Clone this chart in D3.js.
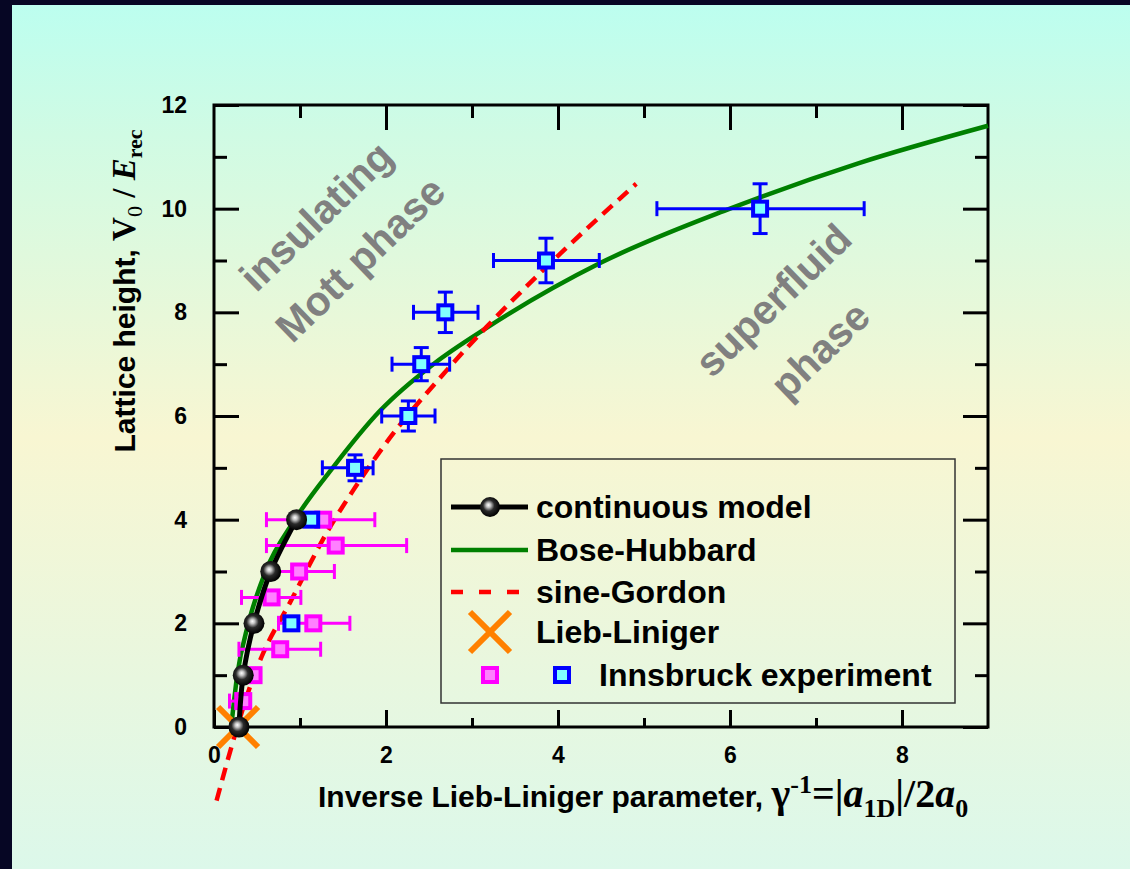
<!DOCTYPE html>
<html>
<head>
<meta charset="utf-8">
<script src="https://cdn.jsdelivr.net/npm/d3@7"></script>
<style>
  html, body { margin: 0; padding: 0; background: #060624; }
  svg { display: block; }
</style>
</head>
<body>
<svg id="chart" width="1130" height="869"></svg>
<script>
// ---- data -------------------------------------------------------------
// continuous model (black spheres joined by a line)
const contX = [0.29, 0.34, 0.465, 0.66, 0.96];
const contV = [0, 1, 2, 3, 4];

// Bose-Hubbard prediction
const bhX = [0.20, 0.27, 0.40, 0.60, 0.94, 1.38, 1.93, 2.55, 3.17, 4.49, 6.0, 7.5, 9.0];
const bhV = [0, 1, 2, 3, 4, 5, 6.1, 7.0, 7.7, 8.95, 10.0, 10.88, 11.6];

// sine-Gordon prediction
const sgX = [0.03, 0.26, 0.42, 0.555, 0.88, 1.35, 1.62, 1.97, 2.71, 3.17, 3.83, 4.91];
const sgV = [-1.42, -0.06, 0.78, 1.36, 2.39, 3.86, 4.57, 5.41, 6.89, 7.72, 8.82, 10.48];

// Lieb-Liniger point
const llX = [0.28];
const llV = [0];

// Innsbruck experiment, first data set (magenta, horizontal error bars)
const magV   = [0.5, 1, 1.5, 2, 2.5, 3, 3.5, 4];
const magX   = [0.34, 0.46, 0.77, 1.155, 0.67, 0.99, 1.415, 1.27];
const magXLo = [0.18, 0.40, 0.29, 0.75, 0.32, 0.61, 0.61, 0.61];
const magXHi = [0.40, 0.52, 1.24, 1.58, 1.01, 1.40, 2.24, 1.87];

// Innsbruck experiment, second data set (blue, x and y error bars)
const bluV    = [2, 4, 5, 6, 7, 8, 9, 10];
const bluX    = [0.90, 1.13, 1.64, 2.26, 2.41, 2.69, 3.86, 6.35];
const bluXLo  = [null, null, 1.26, 1.95, 2.07, 2.32, 3.25, 5.15];
const bluXHi  = [null, null, 1.85, 2.57, 2.74, 3.07, 4.48, 7.56];
const bluVErr = [null, null, 0.25, 0.29, 0.32, 0.39, 0.43, 0.48];

// axis ticks
const xMajor = [0, 2, 4, 6, 8];
const xMinor = [1, 3, 5, 7];
const yMajor = [0, 2, 4, 6, 8, 10, 12];
const yMinor = [1, 3, 5, 7, 9, 11];

// legend entries
const legendLabels = ["continuous model", "Bose-Hubbard", "sine-Gordon", "Lieb-Liniger", "Innsbruck experiment"];

// phase annotations
const phaseTexts = [
  { text: "insulating", cx: 316, cy: 216 },
  { text: "Mott phase", cx: 360, cy: 259 },
  { text: "superfluid", cx: 773, cy: 300 },
  { text: "phase", cx: 820, cy: 350 }
];

// ---- layout -----------------------------------------------------------
const W = 1130, H = 869;
const plot = { left: 214, right: 988, top: 105, bottom: 727 };
const SANS = "'Liberation Sans', Arial, Helvetica, sans-serif";
const SERIF = "'Liberation Serif', 'Times New Roman', serif";

const svg = d3.select("#chart");
const defs = svg.append("defs");

// page background
const bg = defs.append("linearGradient").attr("id", "bgGrad")
  .attr("x1", 0).attr("y1", 0).attr("x2", 0).attr("y2", 1);
[[0, "#bcfeef"], [0.15, "#d0fbe4"], [0.5, "#f8f6d2"], [0.78, "#e8f7df"], [1, "#dcf8ea"]]
  .forEach(([o, c]) => bg.append("stop").attr("offset", o).attr("stop-color", c));

// shaded sphere for the continuous model markers
const ball = defs.append("radialGradient").attr("id", "ballGrad")
  .attr("cx", 0.45).attr("cy", 0.45).attr("r", 0.55).attr("fx", 0.42).attr("fy", 0.4);
[[0, "#ffffff"], [0.2, "#c4c4c4"], [0.52, "#2a2a2a"], [1, "#000000"]]
  .forEach(([o, c]) => ball.append("stop").attr("offset", o).attr("stop-color", c));

svg.append("rect").attr("width", W).attr("height", H).attr("fill", "#060624");
svg.append("rect").attr("x", 12).attr("y", 5).attr("width", W - 12).attr("height", H - 5)
  .attr("fill", "url(#bgGrad)");

const x = d3.scaleLinear().domain([0, 9]).range([plot.left, plot.right]);
const y = d3.scaleLinear().domain([0, 12]).range([plot.bottom, plot.top]);

// ---- axes ---------------------------------------------------------------
function styleAxis(g, labels) {
  g.select(".domain").remove();
  g.selectAll(".tick line").attr("stroke", "#000").attr("stroke-width", 3);
  g.selectAll("text").attr("font-family", SANS).attr("font-weight", "bold")
    .attr("font-size", 23).attr("fill", "#000");
  if (!labels) g.selectAll("text").remove();
}

svg.append("g").attr("transform", `translate(0,${plot.bottom})`)
  .call(d3.axisBottom(x).tickValues(xMajor).tickSize(-17).tickPadding(20).tickFormat(d3.format("d")))
  .call(g => styleAxis(g, true));
svg.append("g").attr("transform", `translate(0,${plot.bottom})`)
  .call(d3.axisBottom(x).tickValues(xMinor).tickSize(-9))
  .call(g => styleAxis(g, false));
svg.append("g").attr("transform", `translate(0,${plot.top})`)
  .call(d3.axisTop(x).tickValues(xMajor.filter(d => d > 0)).tickSize(-25))
  .call(g => styleAxis(g, false));
svg.append("g").attr("transform", `translate(0,${plot.top})`)
  .call(d3.axisTop(x).tickValues(xMinor).tickSize(-13))
  .call(g => styleAxis(g, false));

svg.append("g").attr("transform", `translate(${plot.left},0)`)
  .call(d3.axisLeft(y).tickValues(yMajor).tickSize(-25).tickPadding(27).tickFormat(d3.format("d")))
  .call(g => styleAxis(g, true));
svg.append("g").attr("transform", `translate(${plot.left},0)`)
  .call(d3.axisLeft(y).tickValues(yMinor).tickSize(-13))
  .call(g => styleAxis(g, false));
svg.append("g").attr("transform", `translate(${plot.right},0)`)
  .call(d3.axisRight(y).tickValues(yMajor).tickSize(-25))
  .call(g => styleAxis(g, false));
svg.append("g").attr("transform", `translate(${plot.right},0)`)
  .call(d3.axisRight(y).tickValues(yMinor).tickSize(-13))
  .call(g => styleAxis(g, false));

svg.append("rect")
  .attr("x", plot.left).attr("y", plot.top)
  .attr("width", plot.right - plot.left).attr("height", plot.bottom - plot.top)
  .attr("fill", "none").attr("stroke", "#000").attr("stroke-width", 3);

// ---- axis titles -------------------------------------------------------
const yTitle = svg.append("text")
  .attr("transform", "translate(135,291) rotate(-90)")
  .attr("text-anchor", "middle")
  .attr("font-family", SANS).attr("font-weight", "bold").attr("font-size", 30).attr("fill", "#000");
yTitle.append("tspan").text("Lattice height, ");
yTitle.append("tspan").attr("font-family", SERIF).attr("font-size", 33).text("V");
yTitle.append("tspan").attr("font-family", SERIF).attr("font-weight", "normal")
  .attr("font-size", 22).attr("dy", 7).text("0");
yTitle.append("tspan").attr("font-family", SERIF).attr("font-size", 33).attr("dy", -7).text(" / ");
yTitle.append("tspan").attr("font-family", SERIF).attr("font-size", 33).attr("font-style", "italic").text("E");
yTitle.append("tspan").attr("font-family", SERIF).attr("font-size", 22).attr("dy", 7).text("rec");

const xTitle = svg.append("text")
  .attr("x", 318).attr("y", 807)
  .attr("font-family", SANS).attr("font-weight", "bold").attr("font-size", 30).attr("fill", "#000");
xTitle.append("tspan").text("Inverse Lieb-Liniger parameter, ");
const sz = 40, sub = 26;
xTitle.append("tspan").attr("font-family", SERIF).attr("font-size", sz).text("\u03B3");
xTitle.append("tspan").attr("font-family", SERIF).attr("font-size", sub).attr("dy", -14).text("-1");
xTitle.append("tspan").attr("font-family", SERIF).attr("font-size", sz).attr("dy", 14).text("=|");
xTitle.append("tspan").attr("font-family", SERIF).attr("font-size", sz).attr("font-style", "italic").text("a");
xTitle.append("tspan").attr("font-family", SERIF).attr("font-size", sub).attr("dy", 10).text("1D");
xTitle.append("tspan").attr("font-family", SERIF).attr("font-size", sz).attr("dy", -10).text("|/2");
xTitle.append("tspan").attr("font-family", SERIF).attr("font-size", sz).attr("font-style", "italic").text("a");
xTitle.append("tspan").attr("font-family", SERIF).attr("font-size", sub).attr("dy", 10).text("0");

// ---- phase annotations -------------------------------------------------
svg.append("g").selectAll("text").data(phaseTexts).join("text")
  .attr("transform", d => `translate(${d.cx},${d.cy}) rotate(-44)`)
  .attr("text-anchor", "middle").attr("dy", "0.35em")
  .attr("font-family", SANS).attr("font-weight", "bold").attr("font-size", 41)
  .attr("fill", "#808080")
  .text(d => d.text);

// ---- curves ------------------------------------------------------------
const line = d3.line().x(d => x(d[0])).y(d => y(d[1])).curve(d3.curveMonotoneX);

svg.append("path").datum(d3.zip(bhX, bhV))
  .attr("d", line).attr("fill", "none").attr("stroke", "#008000").attr("stroke-width", 4.5);

svg.append("path").datum(d3.zip(sgX, sgV))
  .attr("d", line).attr("fill", "none").attr("stroke", "#ff0000").attr("stroke-width", 4.5)
  .attr("stroke-dasharray", "13,8");

// ---- experimental points ----------------------------------------------
const magData = magV.map((v, i) => ({ v, x: magX[i], lo: magXLo[i], hi: magXHi[i] }));
const bluData = bluV.map((v, i) => ({ v, x: bluX[i], lo: bluXLo[i], hi: bluXHi[i], ve: bluVErr[i] }));

function xErrorBars(g, data, color) {
  const d = data.filter(p => p.lo != null);
  g.selectAll(".xe").data(d).join("line").attr("class", "xe")
    .attr("x1", p => x(p.lo)).attr("x2", p => x(p.hi))
    .attr("y1", p => y(p.v)).attr("y2", p => y(p.v))
    .attr("stroke", color).attr("stroke-width", 3);
  g.selectAll(".xcl").data(d).join("line").attr("class", "xcl")
    .attr("x1", p => x(p.lo)).attr("x2", p => x(p.lo))
    .attr("y1", p => y(p.v) - 7.5).attr("y2", p => y(p.v) + 7.5)
    .attr("stroke", color).attr("stroke-width", 3);
  g.selectAll(".xch").data(d).join("line").attr("class", "xch")
    .attr("x1", p => x(p.hi)).attr("x2", p => x(p.hi))
    .attr("y1", p => y(p.v) - 7.5).attr("y2", p => y(p.v) + 7.5)
    .attr("stroke", color).attr("stroke-width", 3);
}
function yErrorBars(g, data, color) {
  const d = data.filter(p => p.ve != null);
  g.selectAll(".ye").data(d).join("line").attr("class", "ye")
    .attr("x1", p => x(p.x)).attr("x2", p => x(p.x))
    .attr("y1", p => y(p.v - p.ve)).attr("y2", p => y(p.v + p.ve))
    .attr("stroke", color).attr("stroke-width", 3);
  ["lo", "hi"].forEach(k => {
    g.selectAll(".yc" + k).data(d).join("line").attr("class", "yc" + k)
      .attr("x1", p => x(p.x) - 7.5).attr("x2", p => x(p.x) + 7.5)
      .attr("y1", p => y(k === "lo" ? p.v - p.ve : p.v + p.ve))
      .attr("y2", p => y(k === "lo" ? p.v - p.ve : p.v + p.ve))
      .attr("stroke", color).attr("stroke-width", 3);
  });
}
function squares(g, data, stroke, fill) {
  g.selectAll(".sq").data(data).join("rect").attr("class", "sq")
    .attr("x", p => x(p.x) - 7).attr("y", p => y(p.v) - 7)
    .attr("width", 14).attr("height", 14)
    .attr("fill", fill).attr("stroke", stroke).attr("stroke-width", 4);
}

const gMag = svg.append("g");
xErrorBars(gMag, magData, "#ff00ff");
squares(gMag, magData, "#ff00ff", "#ff80ff");

const gBlu = svg.append("g");
xErrorBars(gBlu, bluData, "#0000ff");
yErrorBars(gBlu, bluData, "#0000ff");
squares(gBlu, bluData, "#0000ff", "#80ffff");

// Lieb-Liniger cross
function cross(g, cx, cy) {
  const h = 20;
  g.append("path")
    .attr("d", `M${cx - h},${cy - h}L${cx + h},${cy + h}M${cx - h},${cy + h}L${cx + h},${cy - h}`)
    .attr("stroke", "#ff8000").attr("stroke-width", 6).attr("fill", "none");
}
const gLL = svg.append("g");
d3.zip(llX, llV).forEach(([a, b]) => cross(gLL, x(a), y(b)));

// continuous model: line and spheres
const contPts = d3.zip(contX, contV);
svg.append("path").datum(contPts)
  .attr("d", d3.line().x(d => x(d[0])).y(d => y(d[1])).curve(d3.curveCatmullRom))
  .attr("fill", "none").attr("stroke", "#000").attr("stroke-width", 5);
svg.append("g").selectAll("circle").data(contPts).join("circle")
  .attr("cx", d => x(d[0])).attr("cy", d => y(d[1])).attr("r", 10.5)
  .attr("fill", "url(#ballGrad)");

// ---- legend ------------------------------------------------------------
const lg = svg.append("g");
lg.append("rect").attr("x", 441).attr("y", 459).attr("width", 514).attr("height", 244)
  .attr("fill", "none").attr("stroke", "#333").attr("stroke-width", 1.5);

const rowY = [507, 550, 592, 632, 675];
lg.selectAll("text").data(legendLabels).join("text")
  .attr("x", (d, i) => i === 4 ? 599 : 536).attr("y", (d, i) => rowY[i]).attr("dy", "0.35em")
  .attr("font-family", SANS).attr("font-weight", "bold").attr("font-size", 32).attr("fill", "#000")
  .text(d => d);

lg.append("line").attr("x1", 451).attr("x2", 528).attr("y1", rowY[0]).attr("y2", rowY[0])
  .attr("stroke", "#000").attr("stroke-width", 5);
lg.append("circle").attr("cx", 490).attr("cy", rowY[0]).attr("r", 10).attr("fill", "url(#ballGrad)");
lg.append("line").attr("x1", 451).attr("x2", 528).attr("y1", rowY[1]).attr("y2", rowY[1])
  .attr("stroke", "#008000").attr("stroke-width", 4.5);
lg.append("line").attr("x1", 451).attr("x2", 523).attr("y1", rowY[2]).attr("y2", rowY[2])
  .attr("stroke", "#ff0000").attr("stroke-width", 4.5).attr("stroke-dasharray", "12,16");
cross(lg, 490, rowY[3]);
lg.append("rect").attr("x", 483).attr("y", rowY[4] - 7).attr("width", 14).attr("height", 14)
  .attr("fill", "#ff80ff").attr("stroke", "#ff00ff").attr("stroke-width", 4);
lg.append("rect").attr("x", 555).attr("y", rowY[4] - 7).attr("width", 14).attr("height", 14)
  .attr("fill", "#80ffff").attr("stroke", "#0000ff").attr("stroke-width", 4);
</script>
</body>
</html>
